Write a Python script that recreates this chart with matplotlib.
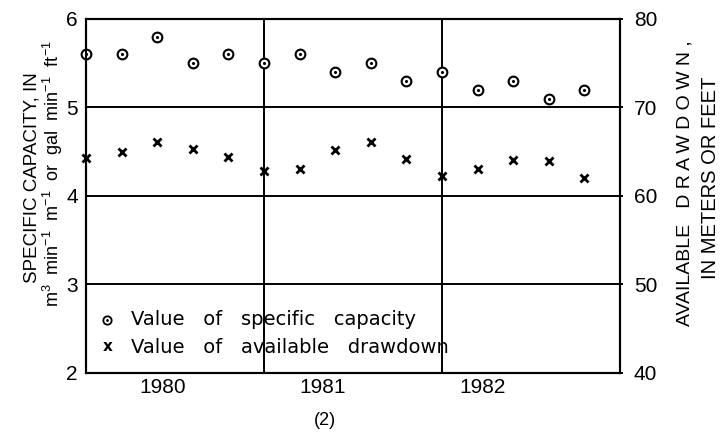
import matplotlib
matplotlib.use('Agg')
import matplotlib.pyplot as plt

plt.rcParams['font.family'] = ['Liberation Sans', 'DejaVu Sans']
plt.rcParams['mathtext.fontset'] = 'custom'
plt.rcParams['mathtext.rm'] = 'Liberation Sans'
plt.rcParams['mathtext.it'] = 'Liberation Sans'

# sample dates (decimal years), five readings per year
dates = [1980.0, 1980.2, 1980.4, 1980.6, 1980.8,
         1981.0, 1981.2, 1981.4, 1981.6, 1981.8,
         1982.0, 1982.2, 1982.4, 1982.6, 1982.8]
specific_capacity = [5.6, 5.6, 5.8, 5.5, 5.6,
                     5.5, 5.6, 5.4, 5.5, 5.3,
                     5.4, 5.2, 5.3, 5.1, 5.2]
available_drawdown = [64.3, 65.0, 66.1, 65.3, 64.4,
                      62.8, 63.0, 65.2, 66.1, 64.2,
                      62.3, 63.1, 64.1, 63.9, 62.0]
year_labels = ['1980', '1981', '1982']
year_label_pos = [1980.43, 1981.33, 1982.23]

fig = plt.figure(figsize=(7.21, 4.34), dpi=100)
ax = fig.add_axes([0.1193, 0.1406, 0.7406, 0.8157])
ax2 = ax.twinx()

ax.set_xlim(1980, 1983)
ax.set_ylim(2, 6)
ax2.set_ylim(40, 80)

for a in (ax, ax2):
    for s in a.spines.values():
        s.set_linewidth(1.5)

# grid: heavy lines at whole units and year boundaries
for y in [3, 4, 5]:
    ax.axhline(y, color='black', lw=1.4, zorder=1)
for x in [1981, 1982]:
    ax.axvline(x, color='black', lw=1.4, zorder=1)

ax.set_yticks([2, 3, 4, 5, 6])
ax.tick_params(axis='y', length=0, pad=6, labelsize=15)
ax.set_xticks([1981, 1982])
ax.set_xticklabels([])
ax.tick_params(axis='x', length=3, direction='in')
ax2.set_yticks([40, 50, 60, 70, 80])
ax2.tick_params(axis='y', length=2, width=1.4, pad=8, labelsize=15)

for xp, lab in zip(year_label_pos, year_labels):
    ax.text(xp, 1.94, lab, ha='center', va='top', fontsize=15)

# specific capacity: circle with centre dot
ax.plot(dates, specific_capacity, ls='none', marker='o', ms=7, mfc='white',
        mec='black', mew=1.5, clip_on=False, zorder=5)
ax.plot(dates, specific_capacity, ls='none', marker='.', ms=2.5, color='black',
        clip_on=False, zorder=6)
# available drawdown: crosses on the right-hand scale
ax2.plot(dates, available_drawdown, ls='none', marker='x', ms=6, mew=2,
         color='black', clip_on=False, zorder=5)

# legend written into the lower-left of the plot
ax.plot([1980.12], [2.6], ls='none', marker='o', ms=6, mfc='white', mec='black', mew=1.3)
ax.plot([1980.12], [2.6], ls='none', marker='.', ms=2, color='black')
ax.text(1980.12, 2.30, 'x', ha='center', va='center', fontsize=11, fontweight='bold',
        family='DejaVu Sans')
ax.text(1980.25, 2.6, 'Value   of   specific   capacity', va='center', fontsize=14,
        family='DejaVu Sans')
ax.text(1980.25, 2.29, 'Value   of   available   drawdown', va='center', fontsize=14,
        family='DejaVu Sans')

# axis titles, anchored on their baselines
fig.text(0.0505, 0.59, 'SPECIFIC CAPACITY, IN', rotation=90, rotation_mode='anchor',
         ha='center', va='baseline', fontsize=13.5)
fig.text(0.0820, 0.60,
         r'm$^3$  min$^{-1}$  m$^{-1}$  or  gal  min$^{-1}$  ft$^{-1}$',
         rotation=90, rotation_mode='anchor', ha='center', va='baseline', fontsize=13)
fig.text(0.950, 0.578, 'AVAILABLE   D R A W D O W N ,', rotation=90, ha='center',
         va='center', fontsize=14)
fig.text(0.985, 0.59, 'IN METERS OR FEET', rotation=90, ha='center', va='center',
         fontsize=14.5)

fig.text(0.451, 0.032, '(2)', ha='center', va='center', fontsize=13)

fig.savefig('out.png', dpi=100)
